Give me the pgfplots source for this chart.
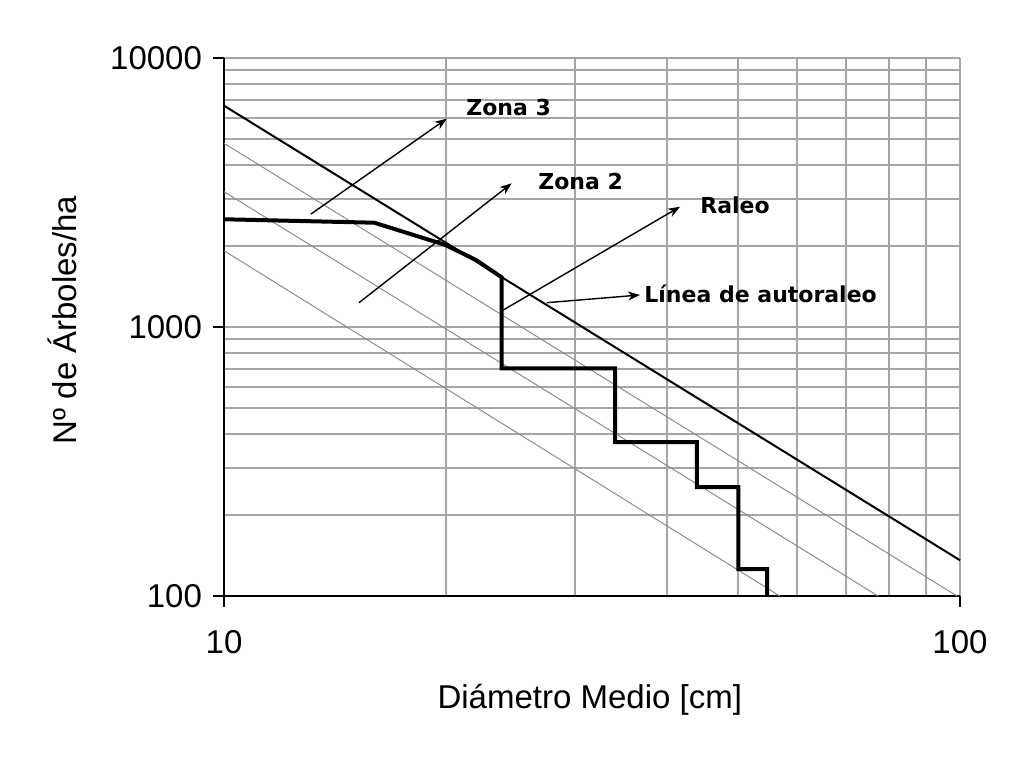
\documentclass[border=0pt]{standalone}
\usepackage{pgfplots}
\pgfplotsset{compat=1.18}
\usepackage{fontspec}
\setmainfont{Liberation Sans}
\newfontfamily\annfont{DejaVu Sans}
\usetikzlibrary{arrows.meta}
\definecolor{gridc}{RGB}{166,166,166}
\definecolor{thinc}{RGB}{140,140,140}
\begin{document}
\begin{tikzpicture}
\path[use as bounding box] (-112pt,-86pt) rectangle (400pt,298pt);
\begin{axis}[
  at={(0,0)}, anchor=south west,
  scale only axis, width=368pt, height=269pt,
  xmode=log, ymode=log,
  xmin=10, xmax=100, ymin=100, ymax=10000,
  xtick={10,100}, xticklabels={10,100},
  ytick={100,1000,10000}, yticklabels={100,1000,10000},
  minor xtick={20,30,40,50,60,70,80,90},
  minor ytick={200,300,400,500,600,700,800,900,2000,3000,4000,5000,6000,7000,8000,9000},
  grid=both,
  major grid style={gridc, line width=1pt},
  minor grid style={gridc, line width=1pt},
  axis x line*=bottom, axis y line*=left,
  axis line style={black, line width=1pt, -},
  tick align=outside, major tick length=5.5pt, minor tick length=0pt,
  tick style={black, line width=1pt},
  ticklabel style={font=\fontsize{16.5}{19}\selectfont},
  xticklabel style={yshift=-8pt},
  yticklabel style={xshift=-2pt},
  clip=false,
]
% self-thinning line
\addplot[black, line width=1pt] coordinates {(10,6650) (100,135.8)};
% thin parallel lines
\addplot[thinc, line width=0.5pt] coordinates {(10,4820) (99.06,100)};
\addplot[thinc, line width=0.5pt] coordinates {(10,3184) (77.4,100)};
\addplot[thinc, line width=0.5pt] coordinates {(10,1922) (56.9,100)};
% stand trajectory
\addplot[black, line width=2pt, line join=miter] coordinates {
 (10,2515) (16,2442) (20,2018) (22,1774) (23.84,1530)
 (23.84,702) (34,702) (34,373) (43.9,373) (43.9,254)
 (50,254) (50,126) (54.7,126) (54.7,100)};
% annotations
\draw[-{Stealth[length=6pt,width=4.5pt]}, line width=0.7pt] (rel axis cs:0.1182,0.7100) -- (rel axis cs:0.3026,0.8872);
\draw[-{Stealth[length=6pt,width=4.5pt]}, line width=0.7pt] (rel axis cs:0.1834,0.5452) -- (rel axis cs:0.3909,0.7671);
\draw[-{Stealth[length=6pt,width=4.5pt]}, line width=0.7pt] (rel axis cs:0.3795,0.5316) -- (rel axis cs:0.6196,0.7236);
\draw[-{Stealth[length=6pt,width=4.5pt]}, line width=0.7pt] (rel axis cs:0.4385,0.5452) -- (rel axis cs:0.5652,0.5595);
\node[anchor=west, inner sep=0pt, font=\annfont\bfseries\fontsize{11}{13}\selectfont] at (rel axis cs:0.3288,0.9071) {Zona 3};
\node[anchor=west, inner sep=0pt, font=\annfont\bfseries\fontsize{11}{13}\selectfont] at (rel axis cs:0.4266,0.7714) {Zona 2};
\node[anchor=west, inner sep=0pt, font=\annfont\bfseries\fontsize{11}{13}\selectfont] at (rel axis cs:0.6467,0.7268) {Raleo};
\node[anchor=west, inner sep=0pt, font=\annfont\bfseries\fontsize{11}{13}\selectfont] at (rel axis cs:0.5707,0.5613) {Línea de autoraleo};
% axis labels
\node[rotate=90, inner sep=0pt, font=\fontsize{16.5}{19}\selectfont] at ([xshift=-81pt]rel axis cs:0,0.513) {Nº de Árboles/ha};
\node[inner sep=0pt, font=\fontsize{16.5}{19}\selectfont] at ([yshift=-52pt]rel axis cs:0.497,0) {Diámetro Medio [cm]};
\end{axis}
\end{tikzpicture}
\end{document}
